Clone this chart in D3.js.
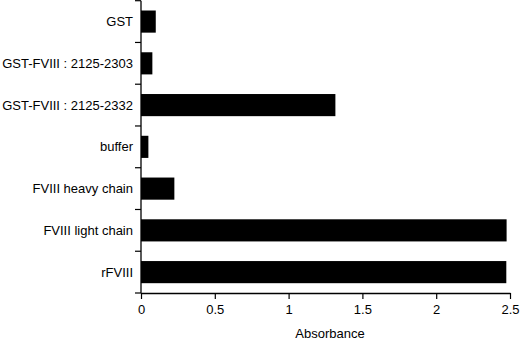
<!DOCTYPE html>
<html>
<head>
<meta charset="utf-8">
<script src="https://cdn.jsdelivr.net/npm/d3@7"></script>
<style>
  body { margin: 0; background: #fff; }
  text { font-family: "Liberation Sans", Arial, sans-serif; fill: #000; }
</style>
</head>
<body>
<svg width="520" height="341"></svg>
<script>
var categories = ["GST", "GST-FVIII : 2125-2303", "GST-FVIII : 2125-2332", "buffer", "FVIII heavy chain", "FVIII light chain", "rFVIII"];
var absorbance = [0.10, 0.077, 1.317, 0.05, 0.226, 2.477, 2.475];
var xTicks = [0, 0.5, 1, 1.5, 2, 2.5];

var svg = d3.select("svg");
var plotLeft = 141, plotRight = 510, plotTop = 0.7, plotBottom = 293;

var x = d3.scaleLinear().domain([0, 2.5]).range([plotLeft, plotRight]);
var y = d3.scaleBand().domain(categories).range([plotTop, plotBottom]).paddingInner(0.47).paddingOuter(0.235);
// ticks sit at band boundaries
var step = y.step();

// bars
svg.selectAll("rect.bar")
  .data(categories)
  .enter()
  .append("rect")
  .attr("class", "bar")
  .attr("x", x(0))
  .attr("y", function (d) { return y(d); })
  .attr("width", function (d, i) { return x(absorbance[i]) - x(0); })
  .attr("height", y.bandwidth())
  .attr("fill", "#000");

// y axis line + ticks
svg.append("line")
  .attr("x1", plotLeft).attr("x2", plotLeft)
  .attr("y1", plotTop).attr("y2", plotBottom)
  .attr("stroke", "#000").attr("stroke-width", 1.3);
for (var i = 0; i <= categories.length; i++) {
  svg.append("line")
    .attr("x1", plotLeft - 6).attr("x2", plotLeft)
    .attr("y1", plotTop + i * step).attr("y2", plotTop + i * step)
    .attr("stroke", "#000").attr("stroke-width", 1.2);
}

// category labels
svg.selectAll("text.cat")
  .data(categories)
  .enter()
  .append("text")
  .attr("class", "cat")
  .attr("x", 133)
  .attr("y", function (d) { return y(d) + y.bandwidth() / 2; })
  .attr("dy", "0.35em")
  .attr("text-anchor", "end")
  .attr("font-size", 13)
  .text(function (d) { return d; });

// x axis
var xAxis = d3.axisBottom(x).tickValues(xTicks).tickSize(6).tickSizeOuter(0)
  .tickFormat(function (d) { return d; });
var gx = svg.append("g").attr("transform", "translate(0," + plotBottom + ")").call(xAxis);
gx.select(".domain").attr("stroke-width", 1.3);
gx.selectAll(".tick line").attr("stroke-width", 1.2);
gx.selectAll(".tick text").attr("font-size", 13).attr("dy", "0.95em")
  .style("font-family", "'Liberation Sans', Arial, sans-serif");

svg.append("text")
  .attr("x", 330)
  .attr("y", 333)
  .attr("dy", "0.35em")
  .attr("text-anchor", "middle")
  .attr("font-size", 13)
  .text("Absorbance");
</script>
</body>
</html>
